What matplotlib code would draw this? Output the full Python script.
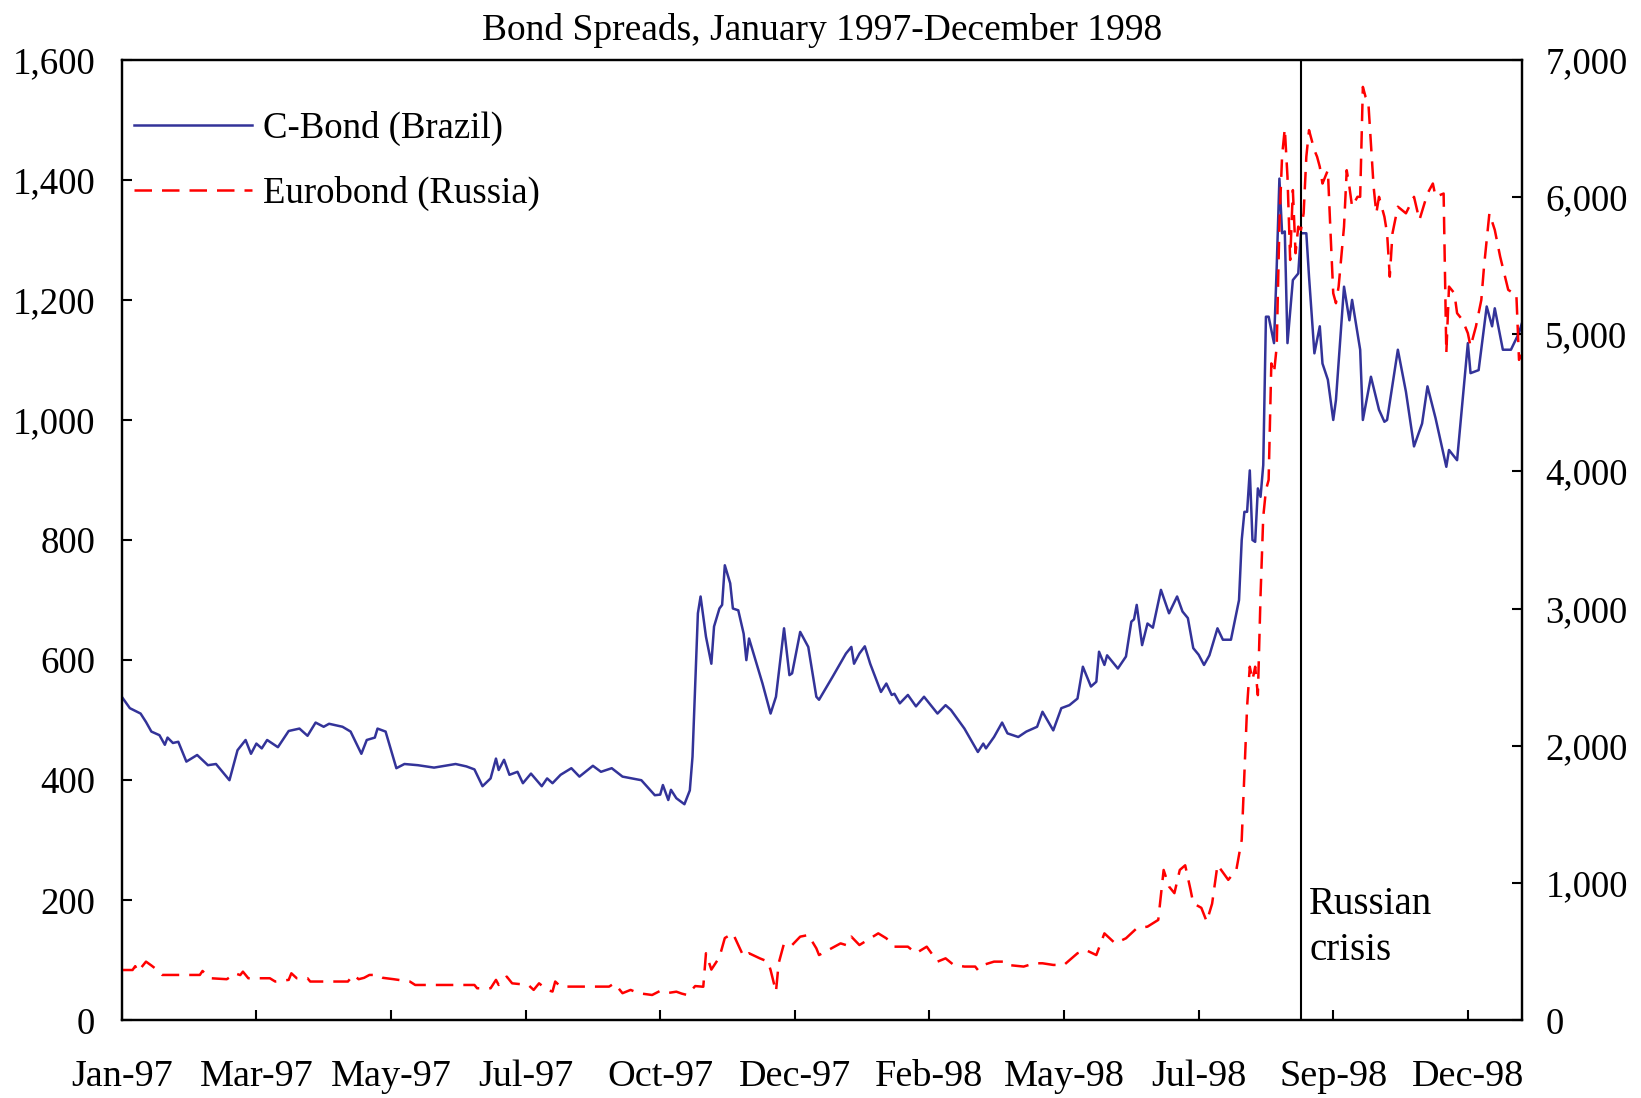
import matplotlib
matplotlib.use("Agg")
import matplotlib.pyplot as plt
from matplotlib.ticker import StrMethodFormatter

plt.rcParams['font.family'] = ['Liberation Serif', 'DejaVu Serif']

# trading-day index (0 = first trading day of Jan 1997), spreads in basis points
brazil_obs = [0, 3, 7, 9, 11, 14, 16, 17, 19, 21, 24, 28, 32, 35, 40, 43, 46, 48, 50, 52,
              54, 58, 62, 66, 69, 72, 75, 77, 82, 85, 89, 91, 94, 95, 98, 102, 105, 110, 116, 124,
              128, 131, 134, 137, 139, 140, 142, 144, 147, 149, 152, 156, 158, 160, 163, 167, 170, 175, 178, 182,
              186, 193, 198, 200, 201, 203, 204, 206, 209, 211, 212, 214, 215, 217, 219, 220, 222, 223, 224, 226,
              227, 229, 231, 232, 233, 235, 238, 241, 243, 246, 248, 249, 252, 255, 258, 259, 264, 269, 271, 272,
              274, 276, 278, 282, 284, 286, 287, 289, 292, 295, 298, 303, 306, 308, 313, 318, 320, 321, 324, 327,
              329, 333, 336, 340, 342, 346, 349, 352, 355, 357, 360, 362, 363, 365, 366, 370, 373, 375, 376, 377,
              379, 381, 383, 386, 389, 392, 394, 396, 398, 400, 402, 404, 407, 409, 412, 415, 416, 417, 418, 419,
              420, 421, 422, 423, 424, 425, 426, 428, 429, 430, 431, 432, 433, 435, 437, 438, 440, 441, 443, 445,
              446, 448, 450, 451, 454, 456, 457, 460, 461, 464, 467, 469, 470, 474, 477, 480, 483, 485, 488, 492,
              493, 496, 500, 501, 504, 507, 509, 510, 513, 516, 519, 520]
brazil_bp = [539, 520, 511, 497, 481, 475, 459, 471, 462, 464, 431, 442, 425, 427, 400, 450, 467, 444, 461, 453,
             467, 455, 482, 486, 474, 496, 489, 494, 489, 481, 444, 467, 471, 486, 481, 420, 427, 425, 421, 427,
             423, 418, 390, 403, 436, 417, 434, 409, 414, 395, 411, 390, 403, 395, 409, 420, 406, 424, 414, 420,
             406, 400, 375, 376, 392, 367, 384, 370, 360, 383, 439, 678, 706, 639, 594, 656, 686, 692, 758, 728,
             686, 683, 644, 600, 636, 606, 561, 511, 539, 653, 575, 578, 647, 622, 539, 534, 572, 611, 622, 594,
             611, 623, 594, 547, 561, 542, 544, 528, 542, 523, 539, 511, 525, 517, 486, 447, 461, 453, 472, 496,
             478, 472, 481, 489, 514, 483, 520, 525, 536, 589, 556, 564, 614, 592, 608, 586, 606, 664, 668, 692,
             625, 661, 654, 717, 678, 706, 681, 670, 620, 609, 592, 608, 653, 634, 634, 700, 800, 847, 847, 916,
             800, 797, 886, 872, 925, 1172, 1172, 1128, 1255, 1402, 1311, 1314, 1128, 1233, 1244, 1311, 1311, 1239, 1111, 1156,
             1094, 1067, 1000, 1033, 1222, 1166, 1200, 1117, 1000, 1072, 1017, 997, 1000, 1117, 1047, 956, 994, 1056, 1003, 922,
             950, 933, 1128, 1078, 1083, 1189, 1156, 1186, 1117, 1117, 1145, 1160]

russia_obs = [0, 4, 5, 6, 9, 11, 13, 15, 29, 30, 31, 33, 39, 41, 42, 44, 45, 47, 55, 57,
              62, 63, 65, 69, 70, 84, 86, 88, 90, 92, 95, 97, 101, 107, 109, 131, 132, 137, 139, 140,
              143, 145, 151, 153, 155, 158, 160, 161, 163, 181, 183, 186, 189, 192, 197, 200, 203, 206, 208, 210,
              213, 216, 217, 219, 222, 224, 227, 229, 231, 233, 237, 240, 241, 243, 244, 246, 249, 252, 255, 258,
              259, 267, 269, 271, 274, 281, 284, 287, 292, 295, 299, 303, 306, 309, 313, 317, 318, 320, 324, 328,
              329, 335, 339, 342, 346, 350, 355, 358, 362, 365, 369, 373, 377, 381, 385, 387, 389, 391, 393, 395,
              397, 398, 401, 403, 405, 407, 411, 414, 416, 417, 418, 419, 420, 421, 422, 423, 424, 425, 426, 427,
              428, 429, 430, 431, 432, 433, 434, 435, 436, 437, 438, 439, 440, 441, 443, 444, 445, 446, 448, 449,
              450, 451, 452, 454, 455, 456, 457, 459, 460, 461, 462, 463, 464, 465, 466, 467, 469, 470, 471, 472,
              474, 477, 480, 482, 485, 487, 488, 491, 492, 493, 495, 496, 498, 500, 501, 503, 505, 506, 508, 510,
              512, 515, 517, 518, 519, 520]
russia_bp = [367, 367, 395, 355, 428, 400, 370, 331, 331, 360, 340, 307, 300, 325, 343, 330, 355, 307, 307, 283,
             295, 343, 307, 307, 283, 283, 331, 300, 310, 331, 331, 310, 300, 283, 258, 258, 234, 234, 295, 258,
             319, 270, 258, 222, 270, 222, 210, 283, 246, 246, 270, 198, 222, 198, 185, 215, 200, 209, 195, 185,
             250, 245, 489, 370, 460, 600, 634, 549, 464, 489, 452, 428, 367, 209, 416, 561, 549, 610, 622, 525,
             476, 561, 549, 610, 549, 634, 598, 537, 537, 489, 537, 428, 452, 404, 392, 392, 367, 404, 428, 428,
             404, 392, 416, 416, 404, 404, 489, 513, 476, 634, 561, 598, 671, 683, 732, 1096, 975, 927, 1096, 1130,
             951, 853, 820, 720, 850, 1133, 1024, 1096, 1315, 1800, 2285, 2577, 2480, 2577, 2370, 3100, 3670, 3865, 3938, 4787,
             4716, 4910, 5800, 6300, 6499, 6147, 5541, 6050, 5590, 5784, 5760, 5881, 6293, 6487, 6341, 6293, 6220, 6098, 6195, 5735,
             5298, 5226, 5347, 5784, 6195, 6074, 5929, 6001, 6001, 6802, 6730, 6700, 6390, 6074, 5881, 6001, 5856, 5735, 5419, 5735,
             5929, 5881, 6001, 5832, 6025, 6098, 6001, 6025, 4862, 5347, 5298, 5153, 5104, 5007, 4910, 5056, 5250, 5492, 5881, 5760,
             5565, 5323, 5298, 5298, 4813, 4850]

tick_obs = [0, 50, 100, 150, 200, 250, 300, 350, 400, 450, 500]
tick_labels = ['Jan-97', 'Mar-97', 'May-97', 'Jul-97', 'Oct-97', 'Dec-97',
               'Feb-98', 'May-98', 'Jul-98', 'Sep-98', 'Dec-98']
crisis_obs = 438

fig = plt.figure(figsize=(16.41, 10.98), dpi=100)
ax = fig.add_axes([0.0742, 0.0707, 0.8531, 0.8749])
ax2 = ax.twinx()

blue, = ax.plot(brazil_obs, brazil_bp, color='#333399', lw=1.8, label='C-Bond (Brazil)')
red, = ax2.plot(russia_obs, russia_bp, color='#ff0000', lw=1.8, dashes=(7, 4),
                label='Eurobond (Russia)')

ax.axvline(crisis_obs, color='black', lw=1.5)
ax.text(crisis_obs + 3, 155, 'Russian\ncrisis', fontsize=28, va='center', ha='left',
        linespacing=1.3)

ax.set_xlim(0, 520)
ax.set_ylim(0, 1600)
ax2.set_ylim(0, 7000)
ax.set_xticks(tick_obs)
ax.set_xticklabels(tick_labels)
ax.set_yticks(range(0, 1601, 200))
ax2.set_yticks(range(0, 7001, 1000))
ax.yaxis.set_major_formatter(StrMethodFormatter('{x:,.0f}'))
ax2.yaxis.set_major_formatter(StrMethodFormatter('{x:,.0f}'))

ax.tick_params(axis='x', direction='in', length=7, width=1.5, labelsize=27.5, pad=28)
ax.tick_params(axis='y', direction='in', length=7, width=1.5, labelsize=26.5, pad=19)
ax2.tick_params(axis='y', direction='in', length=7, width=1.5, labelsize=26.5, pad=17)
for a in (ax, ax2):
    for s in a.spines.values():
        s.set_linewidth(1.6)

ax.set_title('Bond Spreads, January 1997-December 1998', fontsize=27, pad=14)

ax2.legend([blue, red], [blue.get_label(), red.get_label()], loc='upper left',
           bbox_to_anchor=(0.009, 0.9465), frameon=False, fontsize=26.5, handlelength=3.2,
           handletextpad=0.3, labelspacing=0.8, borderaxespad=0, borderpad=0)

fig.savefig('out.png', dpi=100)
